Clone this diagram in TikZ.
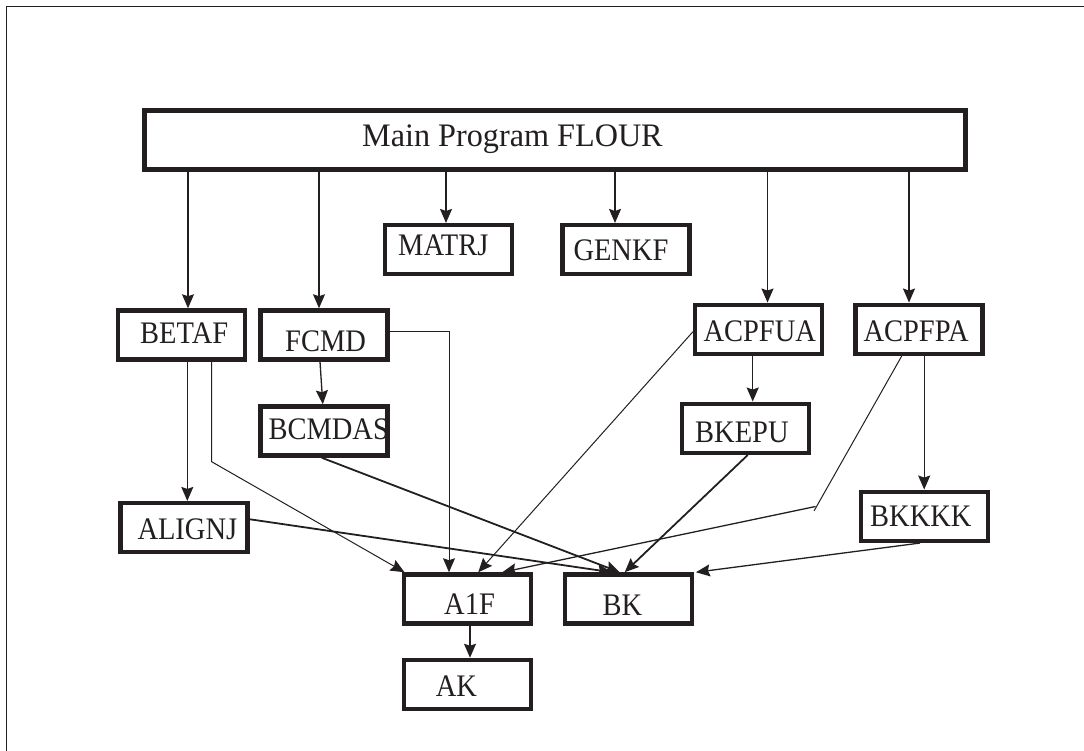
\documentclass[tikz,border=0pt]{standalone}
\usepackage{fontspec}
\usepackage{graphicx}
\setmainfont{Liberation Serif}
\usetikzlibrary{arrows.meta}
\definecolor{ink}{HTML}{231F20}
\newcommand\talltxt[1]{\scalebox{1}[1.1]{#1}}
\tikzset{
  box/.style={draw=ink, line width=4.5pt, minimum width=127pt, minimum height=49pt, inner sep=0pt},
  mainbox/.style={draw=ink, line width=5pt, minimum width=821pt, minimum height=59pt, inner sep=0pt},
  lbl/.style={inner sep=0pt, anchor=base west, text=ink, font=\fontsize{28.5pt}{30pt}\selectfont},
  mainlbl/.style={inner sep=0pt, anchor=base west, text=ink, font=\fontsize{32.2pt}{34pt}\selectfont},
  tip/.style={-{Stealth[length=14pt,width=12pt,inset=2pt]}},
  conn/.style={draw=ink, line width=1.3pt, tip},
  thinconn/.style={draw=ink, line width=1pt, tip},
  thickconn/.style={draw=ink, line width=1.8pt, tip},
  thinline/.style={draw=ink, line width=1pt},
}
\begin{document}
\begin{tikzpicture}[x=1pt, y=-1pt]
\useasboundingbox (0,0) rectangle (1084,751);
% frame (top and left edges)
\draw[ink, line width=1.5pt] (6.3,751) -- (6.3,6.3) -- (1084,6.3);

% texts
\node[mainlbl] (tmain) at (362,146.7) {\scalebox{1}[1.02]{Main Program FLOUR}};
\node[lbl] (tmatrj) at (398,256) {\talltxt{MATRJ}};
\node[lbl] (tgenkf) at (573.3,260.7) {\talltxt{GENKF}};
\node[lbl] (tbetaf) at (140,343.3) {\talltxt{BETAF}};
\node[lbl] (tfcmd) at (285,351.7) {\talltxt{FCMD}};
\begin{scope}
  \clip (260,405) rectangle (387,457);
  \node[lbl] (tbcmdas) at (268.3,439.3) {\talltxt{BCMDAS}};
\end{scope}
\node[lbl] (tacpfua) at (703.3,341) {\talltxt{ACPFUA}};
\node[lbl] (tacpfpa) at (863.3,341) {\talltxt{ACPFPA}};
\node[lbl] (tbkepu) at (695,442.3) {\talltxt{BKEPU}};
\node[lbl] (tbkkkk) at (870,526.7) {\talltxt{BKKKK}};
\node[lbl] (talignj) at (137.3,539) {\talltxt{ALIGNJ}};
\node[lbl] (ta1f) at (444,614) {\talltxt{A1F}};
\node[lbl] (tbk) at (602.3,615.7) {\talltxt{BK}};
\node[lbl] (tak) at (435.7,696.7) {\talltxt{AK}};

% boxes
\node[mainbox] (main) at (555,140) {};
\node[box] (matrj) at (448.5,249.7) {};
\node[box] (genkf) at (626.2,249.7) {};
\node[box] (betaf) at (181.7,335) {};
\node[box] (fcmd) at (323.8,335) {};
\node[box] (bcmdas) at (323.8,431) {};
\node[box] (acpfua) at (758.7,329.3) {};
\node[box] (acpfpa) at (919.2,329.3) {};
\node[box] (bkepu) at (745.5,428.3) {};
\node[box] (bkkkk) at (924.5,516.3) {};
\node[box] (alignj) at (184.2,527.7) {};
\node[box] (a1f) at (467.3,599) {};
\node[box] (bk) at (628.7,599) {};
\node[box] (ak) at (467.3,684.5) {};

% main program calls
\draw[conn] ([xshift=-367]main.south) -- ([xshift=-367]main.south |- betaf.north);
\draw[conn] ([xshift=-236]main.south) -- ([xshift=-236]main.south |- fcmd.north);
\draw[conn] ([xshift=-109]main.south) -- ([xshift=-109]main.south |- matrj.north);
\draw[conn] ([xshift=60]main.south) -- ([xshift=60]main.south |- genkf.north);
\draw[conn] ([xshift=212.5]main.south) -- ([xshift=212.5]main.south |- acpfua.north);
\draw[conn] ([xshift=354]main.south) -- ([xshift=354]main.south |- acpfpa.north);

% second level
\draw[conn] ([xshift=5.6]betaf.south) -- ([xshift=5.6]betaf.south |- alignj.north);
\draw[thinconn] ([xshift=30]betaf.south) -- ++(0,100) -- ([xshift=3]a1f.north west);
\draw[conn] ([xshift=-3.8]fcmd.south) -- ([xshift=-1]bcmdas.north);
\draw[thinconn] ([yshift=3.3]fcmd.east) -| ([xshift=-18.3]a1f.north);
\draw[thickconn] ([xshift=-2]bcmdas.south) -- ([xshift=-9]bk.north);
\draw[thickconn] ([yshift=8.4]alignj.east) -- ([xshift=-17]bk.north);
\draw[conn] ([xshift=-6]acpfua.south) -- ([xshift=7.2]bkepu.north);
\draw[thinconn] ([yshift=-2.4]acpfua.west) -- ([xshift=11]a1f.north);
\draw[thickconn] ([xshift=2.2]bkepu.south) -- ([xshift=-4]bk.north);
\draw[conn] ([xshift=5]acpfpa.south) -- ([xshift=5]acpfpa.south |- bkkkk.north);
\coordinate (kA) at (814,511);
\coordinate (kB) at (815.5,506.5);
\draw[thinline] ([xshift=-17.5]acpfpa.south) -- (kA);
\draw[conn] (kB) -- ([xshift=35]a1f.north);
\draw[conn] ([xshift=-4.5]bkkkk.south) -- ([xshift=1.5]bk.north east);
\draw[conn] ([xshift=2.7]a1f.south) -- ([xshift=2.7]a1f.south |- ak.north);
\end{tikzpicture}
\end{document}
